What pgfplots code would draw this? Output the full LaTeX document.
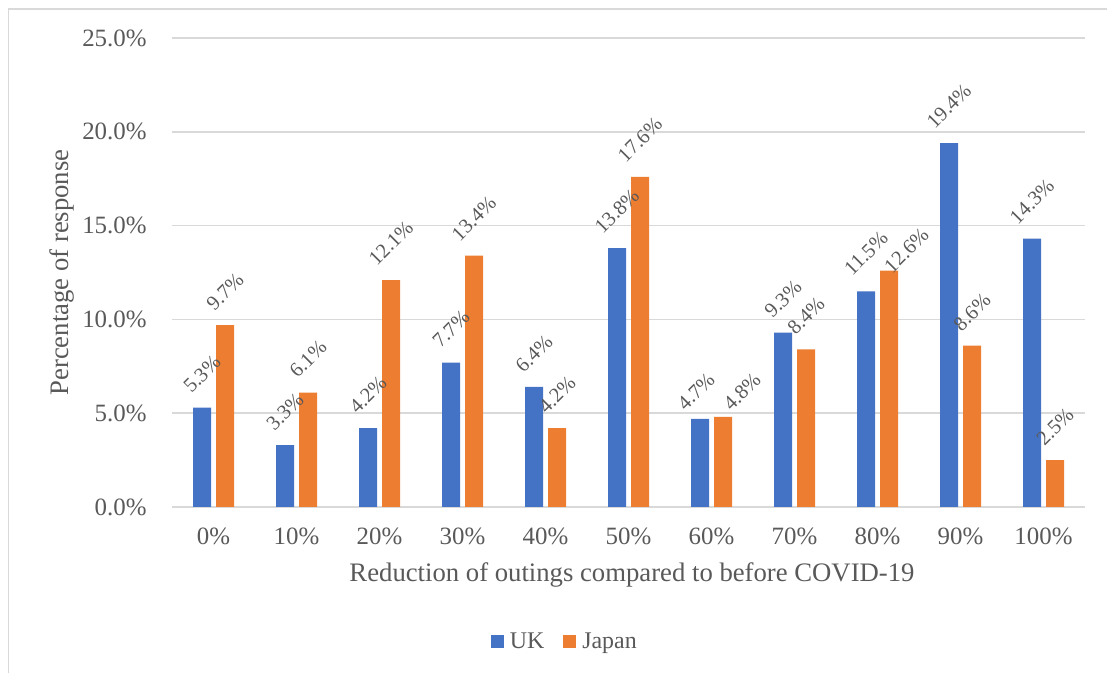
\documentclass[border=0pt]{standalone}
\usepackage{fontspec}
\setmainfont{Liberation Serif}
\usepackage{graphicx}
\usepackage{pgfplots}
\usepackage{pgfplotstable}
\pgfplotsset{compat=1.18}

\definecolor{ukblue}{HTML}{4472C4}
\definecolor{jporange}{HTML}{ED7D31}
\definecolor{txtgray}{HTML}{595959}
\definecolor{gridgray}{HTML}{D9D9D9}

% share of responses (%); dx, dy nudge a value label (bp) where two labels meet
\pgfplotstableread{
x  y     dx    dy
0  5.3   0     6.5
1  3.3   0     6.5
2  4.2   0     6.5
3  7.7   0     6.5
4  6.4   0     6.5
5  13.8  0     6.5
6  4.7   -2    3.5
7  9.3   0     6.5
8  11.5  0     7
9  19.4  0     6.5
10 14.3  0     6.5
}\uk
\pgfplotstableread{
x  y     dx    dy
0  9.7   0     6.5
1  6.1   0     6.5
2  12.1  0     6.5
3  13.4  0     6.5
4  4.2   0     6.5
5  17.6  0     6.5
6  4.8   9.5   2.5
7  8.4   0     6.5
8  12.6  8.75  -2
9  8.6   0     6.5
10 2.5   0     6.5
}\japan

\begin{document}
\begin{tikzpicture}
\useasboundingbox (0,0) rectangle (553.5bp,336.5bp);
% chart frame
\draw[gridgray, line width=0.8bp] (4.15bp,-2bp) -- (4.15bp,332bp) -- (560bp,332bp);
\begin{axis}[
  at={(86bp,83bp)}, anchor=south west,
  scale only axis, width=456.5bp, height=234.5bp,
  ybar=2.5bp, bar width=9bp,
  xmin=-0.5, xmax=10.5, ymin=0, ymax=25,
  xtick={0,...,10},
  xticklabels={0\%,10\%,20\%,30\%,40\%,50\%,60\%,70\%,80\%,90\%,100\%},
  ytick={0,5,...,25},
  yticklabel={\pgfmathprintnumber[fixed,fixed zerofill,precision=1]{\tick}\%},
  /pgf/number format/assume math mode=true,
  ymajorgrids, grid style={gridgray, line width=0.8bp},
  axis line style={draw=none}, major tick length=0pt,
  ticklabel style={font=\fontsize{12.5}{14}\selectfont, text=txtgray},
  xticklabel style={anchor=base, inner sep=0pt, yshift=-19bp},
  yticklabel style={anchor=east, inner sep=0pt, xshift=-12.5bp},
  xlabel={Reduction of outings compared to before COVID-19},
  ylabel={Percentage of response},
  label style={font=\fontsize{13.4}{15}\selectfont, text=txtgray},
  xlabel style={at={(axis description cs:0.5,0)}, anchor=base, inner sep=0pt, yshift=-37.5bp, xshift=1.75bp},
  ylabel style={at={(axis description cs:0,0.5)}, anchor=base, inner sep=0pt, rotate=0, yshift=52bp},
  visualization depends on={\thisrow{dx} \as \labdx},
  visualization depends on={\thisrow{dy} \as \labdy},
  nodes near coords={\rotatebox{45}{\pgfmathprintnumber[fixed,fixed zerofill,precision=1]{\pgfplotspointmeta}\%}},
  every node near coord/.append style={anchor=south, inner sep=0pt,
    xshift=\labdx bp, yshift=\labdy bp,
    font=\fontsize{10.3}{12}\selectfont, text=txtgray},
  legend style={draw=none, fill=none, legend columns=2,
    at={(axis description cs:0.4325,-0.2878)}, anchor=center,
    font=\fontsize{12}{14}\selectfont, text=txtgray,
    /tikz/every even column/.append style={column sep=6bp},
    nodes={inner xsep=3.2bp},
    inner sep=0pt},
  clip=false,
]
\addplot[fill=ukblue, draw=none,
  legend image code/.code={\fill[ukblue] (0bp,-3.25bp) rectangle (6.5bp,3.25bp);}]
  table[x=x, y=y] {\uk};
\addplot[fill=jporange, draw=none,
  legend image code/.code={\fill[jporange] (0bp,-3.25bp) rectangle (6.5bp,3.25bp);}]
  table[x=x, y=y] {\japan};
\legend{UK,Japan}
\end{axis}
\end{tikzpicture}
\end{document}
